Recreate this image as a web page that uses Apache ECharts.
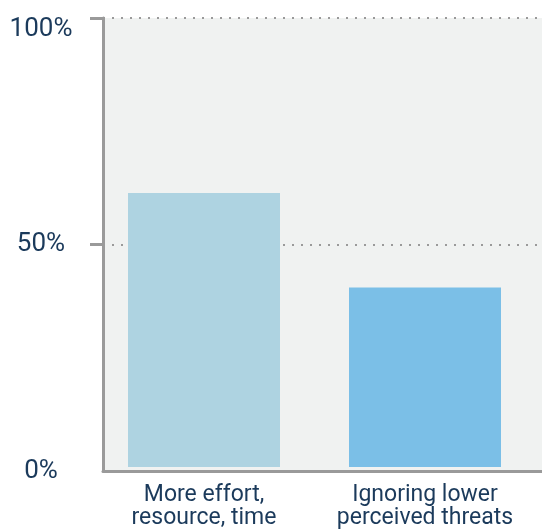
<!DOCTYPE html>
<html>
<head>
<meta charset="utf-8">
<script src="https://cdn.jsdelivr.net/npm/echarts@6/dist/echarts.min.js"></script>
<style>
  html, body { margin: 0; padding: 0; background: #ffffff; }
  #chart { width: 542px; height: 530px; }
</style>
</head>
<body>
<div id="chart"></div>
<script>
// Share of respondents per response
const categories = ['More effort,\nresource, time', 'Ignoring lower\nperceived threats'];
const shares = [61, 40];
const yTicks = [0, 50, 100];

const barColors = ['#aed3e1', '#7bbfe7'];
const axisGray = '#9a9a9a';
const textColor = '#1b3a5b';
const fontFamily = 'Roboto, sans-serif';

const chart = echarts.init(document.getElementById('chart'), null, { renderer: 'canvas' });

chart.setOption({
  animation: false,
  backgroundColor: '#ffffff',
  grid: [
    // frame: background, axes, gridlines
    { left: 103, right: 0, top: 18, bottom: 59, show: true, backgroundColor: '#f0f2f1', borderWidth: 0 },
    // bars
    { left: 93.5, right: 6.5, top: 18, bottom: 59 }
  ],
  xAxis: [
    {
      gridIndex: 0, type: 'category', data: categories,
      axisLine: { show: true, lineStyle: { color: axisGray, width: 3 } },
      axisTick: { show: false }, axisLabel: { show: false }, splitLine: { show: false }
    },
    {
      gridIndex: 1, type: 'category', data: categories,
      axisLine: { show: false }, axisTick: { show: false },
      axisLabel: {
        color: textColor, fontFamily: fontFamily, fontSize: 23, lineHeight: 23,
        margin: 17, interval: 0
      }
    }
  ],
  yAxis: [
    {
      gridIndex: 0, type: 'value', min: yTicks[0], max: yTicks[yTicks.length - 1], interval: 50,
      axisLine: { show: true, lineStyle: { color: axisGray, width: 3 } },
      axisTick: { show: true, customValues: yTicks.slice(1), length: 13, lineStyle: { color: axisGray, width: 3 } },
      axisLabel: {
        align: 'center', margin: 62,
        formatter: function (v) { return v === 100 ? '{t|' + v + '%}' : '{n|' + v + '%}'; },
        rich: {
          n: { color: textColor, fontFamily: fontFamily, fontSize: 26 },
          t: { color: textColor, fontFamily: fontFamily, fontSize: 26, padding: [22, 0, 0, 0] }
        }
      },
      splitLine: { show: true, lineStyle: { color: axisGray, width: 2, type: [2, 7] } }
    },
    {
      gridIndex: 1, type: 'value', min: yTicks[0], max: yTicks[yTicks.length - 1],
      show: false
    }
  ],
  series: [
    {
      type: 'bar', xAxisIndex: 1, yAxisIndex: 1,
      barWidth: 152,
      data: shares.map(function (v, i) { return { value: v, itemStyle: { color: barColors[i] } }; })
    }
  ]
});
</script>
</body>
</html>
